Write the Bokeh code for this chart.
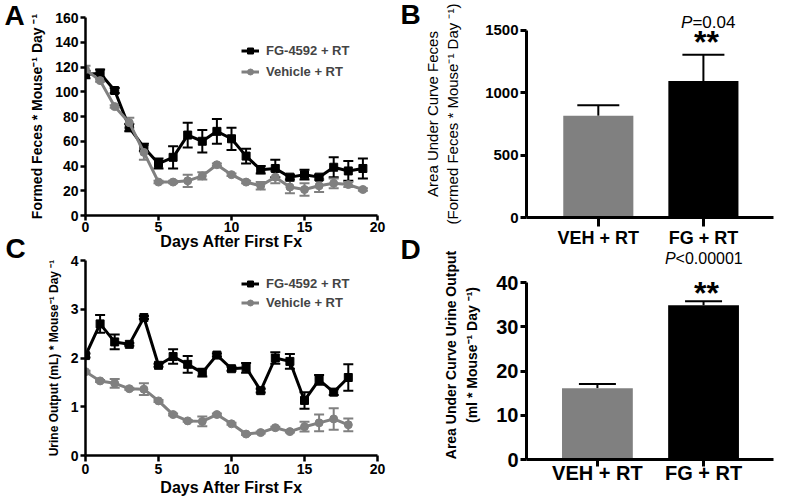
import math
from bokeh.plotting import figure
from bokeh.models import (Range1d, FixedTicker, Whisker, TeeHead, ColumnDataSource,
                          Label, Legend, LegendItem, LinearAxis)
from bokeh.core.properties import value
from bokeh.layouts import row, column
from bokeh.embed import file_html
from bokeh.resources import INLINE

FONT = "Liberation Sans"
GRAY = "#808080"
BLACK = "#000000"

# ---------------- data ----------------
days_feces = list(range(20))
fg_feces = [114, 115, 101, 71, 55, 42, 47, 65, 60, 68, 62, 48, 37, 38, 31, 33, 31, 39, 36, 38]
fg_feces_err = [3, 3, 2, 3, 3, 4, 9, 10, 9, 10, 9, 6, 3, 7, 2, 4, 2, 8, 8, 8]
veh_feces = [118, 109, 88, 75, 51, 27, 27, 28, 32, 41, 33, 27, 24, 31, 23, 21, 24, 26, 25, 21]
veh_feces_err = [3, 1, 1, 4, 6, 1, 1, 5, 3, 1, 1, 1, 3, 5, 5, 5, 5, 4, 2, 1]

days_urine = list(range(19))
fg_urine = [2.05, 2.70, 2.33, 2.28, 2.83, 1.85, 2.03, 1.87, 1.70, 2.06, 1.78, 1.80,
            1.33, 2.00, 1.93, 1.13, 1.55, 1.30, 1.60]
fg_urine_err = [0.04, 0.18, 0.15, 0.03, 0.03, 0.03, 0.15, 0.17, 0.08, 0.03, 0.04, 0.10,
                0.04, 0.12, 0.15, 0.17, 0.10, 0.06, 0.27]
veh_urine = [1.72, 1.53, 1.48, 1.37, 1.36, 1.12, 0.84, 0.71, 0.70, 0.84, 0.65, 0.44,
             0.47, 0.57, 0.49, 0.59, 0.67, 0.75, 0.63]
veh_urine_err = [0.02, 0.02, 0.09, 0.02, 0.12, 0.02, 0.02, 0.02, 0.10, 0.02, 0.02, 0.02,
                 0.02, 0.02, 0.02, 0.10, 0.17, 0.22, 0.13]

groups = ["VEH + RT", "FG + RT"]
group_colors = [GRAY, BLACK]
auc_feces = [815, 1095]
auc_feces_err = [85, 210]
auc_urine = [16.1, 34.9]
auc_urine_err = [1.0, 0.9]

series_labels = ["FG-4592 + RT", "Vehicle + RT"]
panel_letters = ["A", "C", "B", "D"]
p_feces = "=0.04"
p_urine = "<0.00001"
stars = "**"

days_xticks = [0, 5, 10, 15, 20]
feces_yticks = [0, 20, 40, 60, 80, 100, 120, 140, 160]
urine_yticks = [0, 1, 2, 3, 4]
aucf_yticks = [0, 500, 1000, 1500]
aucu_yticks = [0, 10, 20, 30, 40]

SUP = "\u207b\u00b9"


def make_fig(w, h, xr, yr, left, right, top, bottom):
    p = figure(width=w, height=h, x_range=xr, y_range=yr,
               output_backend="svg", toolbar_location=None,
               min_border_left=left, min_border_right=right,
               min_border_top=top, min_border_bottom=bottom)
    p.xgrid.visible = False
    p.ygrid.visible = False
    p.outline_line_color = None
    p.background_fill_color = None
    p.border_fill_color = None
    return p


def style_axis(ax, size, width, tick, standoff=2):
    ax.axis_line_width = width
    ax.axis_line_color = "black"
    ax.major_tick_line_width = width
    ax.major_tick_line_color = "black"
    ax.major_tick_out = tick
    ax.major_tick_in = 0
    ax.minor_tick_out = 0
    ax.minor_tick_in = 0
    ax.major_label_text_font = FONT
    ax.major_label_text_font_style = "bold"
    ax.major_label_text_font_size = size
    ax.major_label_text_color = "black"
    ax.major_label_standoff = standoff


def axis_title(ax, text, size, style="bold", standoff=0):
    ax.axis_label = text
    ax.axis_label_text_font = FONT
    ax.axis_label_text_font_style = style
    ax.axis_label_text_font_size = size
    ax.axis_label_text_color = "black"
    ax.axis_label_standoff = standoff


def extra_title(p, text, size, bounds, style="bold", standoff=0):
    # a tick-less axis used only to carry one line of a two-line axis title
    ax = LinearAxis(ticker=FixedTicker(ticks=[]), axis_line_color=None, bounds=bounds,
                    major_tick_out=0, major_tick_in=0, minor_tick_out=0, minor_tick_in=0,
                    major_label_standoff=0)
    axis_title(ax, text, size, style, standoff)
    p.add_layout(ax, "left")


def lbl(p, text, x, y, xo=0, yo=0, size="14px", style="bold", align="center",
        baseline="middle"):
    p.add_layout(Label(x=x, y=y, x_offset=xo, y_offset=yo, text=text,
                       text_font=FONT, text_font_style=style, text_font_size=size,
                       text_align=align, text_baseline=baseline, text_color="black"))


def time_series(p, days, fg, fge, veh, vehe, legend_loc, spacing):
    rends = []
    for vals, errs, col, mk in ((fg, fge, BLACK, "square"), (veh, vehe, GRAY, "circle")):
        src = ColumnDataSource(dict(x=days, y=vals,
                                    lo=[v - e for v, e in zip(vals, errs)],
                                    hi=[v + e for v, e in zip(vals, errs)]))
        p.add_layout(Whisker(base="x", lower="lo", upper="hi", source=src,
                             line_color=col, line_width=2,
                             upper_head=TeeHead(size=10, line_width=2, line_color=col),
                             lower_head=TeeHead(size=10, line_width=2, line_color=col)))
        lr = p.line("x", "y", source=src, line_color=col, line_width=3)
        sr = p.scatter("x", "y", source=src, marker=mk, size=8,
                       fill_color=col, line_color=col)
        rends.append([lr, sr])
    items = [LegendItem(label=series_labels[i], renderers=rends[i]) for i in range(2)]
    p.add_layout(Legend(items=items, location=legend_loc, padding=0, spacing=spacing,
                        margin=0, glyph_width=18, glyph_height=15, label_height=15,
                        label_standoff=7, border_line_color=None, background_fill_alpha=0,
                        label_text_font=FONT, label_text_font_style="bold",
                        label_text_font_size="13px"))


# ---------------- Panel A ----------------
pA = make_fig(374, 253, Range1d(0, 20), Range1d(0, 160), 56, 23, 17, 38)
style_axis(pA.xaxis[0], "14px", 2.5, 5, 1)
style_axis(pA.yaxis[0], "14px", 2.5, 5, 2)
pA.xaxis.ticker = FixedTicker(ticks=days_xticks)
pA.yaxis.ticker = FixedTicker(ticks=feces_yticks)
axis_title(pA.xaxis[0], "Days After First Fx", "16px", standoff=-2)
axis_title(pA.yaxis[0], "Formed Feces * Mouse" + SUP + " Day " + SUP, "14px", standoff=7)
time_series(pA, days_feces, fg_feces, fg_feces_err, veh_feces, veh_feces_err, (156, 136), 6)

# ---------------- Panel C ----------------
pC = make_fig(374, 247, Range1d(0, 20), Range1d(0, 4), 56, 23, 7, 45)
style_axis(pC.xaxis[0], "14px", 2.5, 6, 2)
style_axis(pC.yaxis[0], "14px", 2.5, 5, 2)
pC.xaxis.ticker = FixedTicker(ticks=days_xticks)
pC.yaxis.ticker = FixedTicker(ticks=urine_yticks)
axis_title(pC.xaxis[0], "Days After First Fx", "16px", standoff=2)
axis_title(pC.yaxis[0], "Urine Output (mL) * Mouse" + SUP + " Day " + SUP, "12px", standoff=7)
time_series(pC, days_urine, fg_urine, fg_urine_err, veh_urine, veh_urine_err, (156, 145), 4)


def bar_panel(p, vals, errs, tee, xsize, ysize, ticks, xtick, xstand):
    xs = [i + 1 for i in range(len(groups))]
    src = ColumnDataSource(dict(x=xs, top=vals, col=group_colors,
                                hi=[v + e for v, e in zip(vals, errs)]))
    p.vbar(x="x", top="top", width=0.667, source=src, fill_color="col", line_color=None)
    p.add_layout(Whisker(base="x", lower="top", upper="hi", source=src,
                         line_color="black", line_width=2,
                         upper_head=TeeHead(size=tee, line_width=2, line_color="black"),
                         lower_head=None))
    style_axis(p.xaxis[0], xsize, 3, xtick, xstand)
    style_axis(p.yaxis[0], ysize, 3, 6, 2)
    p.xaxis.ticker = FixedTicker(ticks=xs)
    p.xaxis.major_label_overrides = {x: g for x, g in zip(xs, groups)}
    p.yaxis.ticker = FixedTicker(ticks=ticks)
    p.yaxis.bounds = (0, ticks[-1])
    return xs


# ---------------- Panel B ----------------
pB = make_fig(380, 250, Range1d(0.3167, 2.667), Range1d(0, 1660), 95, 3, 10, 33)
xsB = bar_panel(pB, auc_feces, auc_feces_err, 42, "18px", "15px", aucf_yticks, 9, 1)
extra_title(pB, "(Formed Feces * Mouse" + SUP + " Day " + SUP + ")", "15px", (24, 1660),
            style="normal", standoff=22)
extra_title(pB, "Area Under Curve Feces", "15px", (0, 1556), style="normal", standoff=0)
topB = auc_feces[1] + auc_feces_err[1]
lbl(pB, "P", xsB[1], topB, xo=-11, yo=32, size="17px", style="italic", align="right")
lbl(pB, p_feces, xsB[1], topB, xo=-11, yo=32, size="17px", style="normal", align="left")
lbl(pB, stars, xsB[1], topB, xo=3, yo=13, size="32px")

# ---------------- Panel D ----------------
pD = make_fig(380, 250, Range1d(0.3319, 2.659), Range1d(0, 47.3), 90, 27, 0, 41)
xsD = bar_panel(pD, auc_urine, auc_urine_err, 37, "20px", "20px", aucu_yticks, 7, -5)
extra_title(pD, "(ml * Mouse" + SUP + " Day " + SUP + ")", "14px", (0, 43), standoff=14)
extra_title(pD, "Area Under Curve Urine Output", "14px", (0, 42.1), standoff=2)
topD = auc_urine[1] + auc_urine_err[1]
lbl(pD, "P", xsD[1], topD, xo=-28, yo=43, size="16px", style="italic", align="right")
lbl(pD, p_urine, xsD[1], topD, xo=-28, yo=43, size="16px", style="normal", align="left")
lbl(pD, stars, xsD[1], topD, xo=3, yo=8, size="32px")


# ---------------- panel letters ----------------
def letter_fig(w, x0, letters, xs, ys):
    p = figure(width=w, height=500, x_range=Range1d(x0, x0 + w), y_range=Range1d(500, 0),
               output_backend="svg", toolbar_location=None,
               x_axis_location=None, y_axis_location=None,
               min_border_left=0, min_border_right=0, min_border_top=0, min_border_bottom=0)
    p.xgrid.visible = False
    p.ygrid.visible = False
    p.outline_line_color = None
    p.background_fill_color = None
    p.border_fill_color = None
    p.text(x=xs, y=ys, text=letters, text_font=value(FONT), text_font_style="bold",
           text_font_size="28px", text_align="center", text_baseline="middle",
           text_color="black")
    return p


L1 = letter_fig(26, 0, panel_letters[:2], [14, 15], [15, 248])
L2 = letter_fig(20, 400, panel_letters[2:], [410, 410], [14, 249])

layout = row(L1, column(pA, pC), L2, column(pB, pD))
open("out.html", "w").write(file_html(layout, INLINE))
